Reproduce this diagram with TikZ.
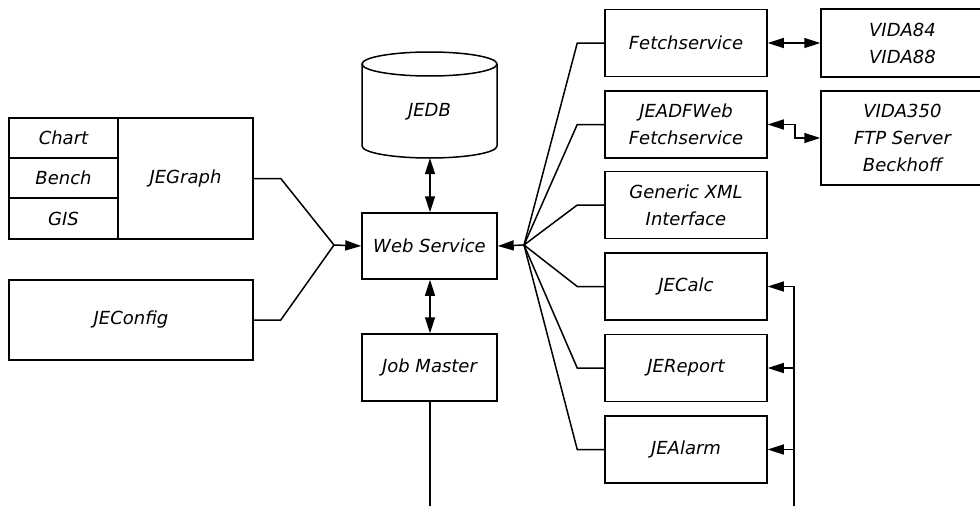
\documentclass[tikz,border=0pt]{standalone}
\usepackage{fontspec}
\setmainfont{DejaVu Sans}
\usetikzlibrary{arrows.meta}
\tikzset{
  lbl/.style={font=\itshape\fontsize{18}{27}\selectfont, align=center},
  box/.style={lbl, draw, line width=1.5pt, inner sep=0pt,
              minimum width=162pt, minimum height=67pt},
  cell/.style={lbl, draw, line width=1.5pt, inner sep=0pt,
               minimum width=109pt, minimum height=40pt},
  wire/.style={line width=1.5pt},
  >={Triangle[length=16pt,width=10pt]},
}
\begin{document}
\begin{tikzpicture}[x=1pt,y=-1pt]
  \clip (0,0) rectangle (980,506);
  \fill[white] (0,0) rectangle (980,506);

  % graphical front ends
  \node[cell] (chart) at (63.5,138) {Chart};
  \node[cell] (bench) at (63.5,178) {Bench};
  \node[cell, minimum height=41pt] (gis) at (63.5,218.5) {GIS};
  \node[box, minimum width=135pt, minimum height=121pt] (jegraph) at (185.5,178.5) {JEGraph};
  \node[box, minimum width=244pt, minimum height=80pt] (jeconfig) at (131,320) {JEConfig};

  % database drum
  \draw[wire] (362,64) -- (362,146) arc[start angle=180, end angle=0, x radius=67.5, y radius=12]
              -- (497,64);
  \draw[wire] (429.5,64) ellipse[x radius=67.5, y radius=12];
  \node[lbl, minimum width=135pt, minimum height=92pt, inner sep=0pt] (jedb) at (429.5,112) {JEDB};

  % core services
  \node[box, minimum width=135pt, minimum height=66pt] (ws) at (429.5,246) {Web Service};
  \node[box, minimum width=135pt, minimum height=67pt] (jm) at (429.5,367.5) {Job Master};

  % modules on the right
  \node[box] (fetch) at (686,43) {Fetchservice};
  \node[box] (jeadf) at (686,124.5) {JEADFWeb\\Fetchservice};
  \node[box] (xml)   at (686,205) {Generic XML\\Interface};
  \node[box] (calc)  at (686,286.5) {JECalc};
  \node[box] (rep)   at (686,368) {JEReport};
  \node[box] (alarm) at (686,449.5) {JEAlarm};

  % devices
  \node[box, minimum width=163pt, minimum height=68pt] (vida84) at (902.5,43) {VIDA84\\VIDA88};
  \node[box, minimum width=163pt, minimum height=94pt] (vida350) at (902.5,138) {VIDA350\\FTP Server\\Beckhoff};

  % junction points and free ends
  \coordinate (jl) at (334,245);
  \coordinate (jr) at (524,245);
  \coordinate (busend) at (794,506);
  \coordinate (jmend) at (430,506);

  % left side into the web service
  \draw[wire] (jegraph.east) -- ++(27,0) -- (jl);
  \draw[wire] (jeconfig.east) -- ++(27,0) -- (jl);
  \draw[wire,->] (jl) -- (ws.west);

  % right side into the web service
  \foreach \n in {fetch,jeadf,xml,calc,rep,alarm}
    \draw[wire] (\n.west) -- ++(-27,0) -- (jr);
  \draw[wire,->] (jr) -- (ws.east);

  % vertical links
  \draw[wire,<->] ([xshift=0.5pt]jedb.south) -- ([xshift=0.5pt]ws.north);
  \draw[wire,<->] ([xshift=0.5pt]ws.south) -- ([xshift=0.5pt]jm.north);
  \draw[wire] ([xshift=0.5pt]jm.south) -- (jmend);

  % device links
  \draw[wire,<->] (fetch.east) -- (vida84.west);
  \draw[wire,<->] (jeadf.east) -- ++(27,0) |- (vida350.west);

  % bus on the right
  \draw[wire,->] (busend) |- (calc.east);
  \draw[wire,->] (rep.east -| busend) -- (rep.east);
  \draw[wire,->] (alarm.east -| busend) -- (alarm.east);
\end{tikzpicture}
\end{document}
